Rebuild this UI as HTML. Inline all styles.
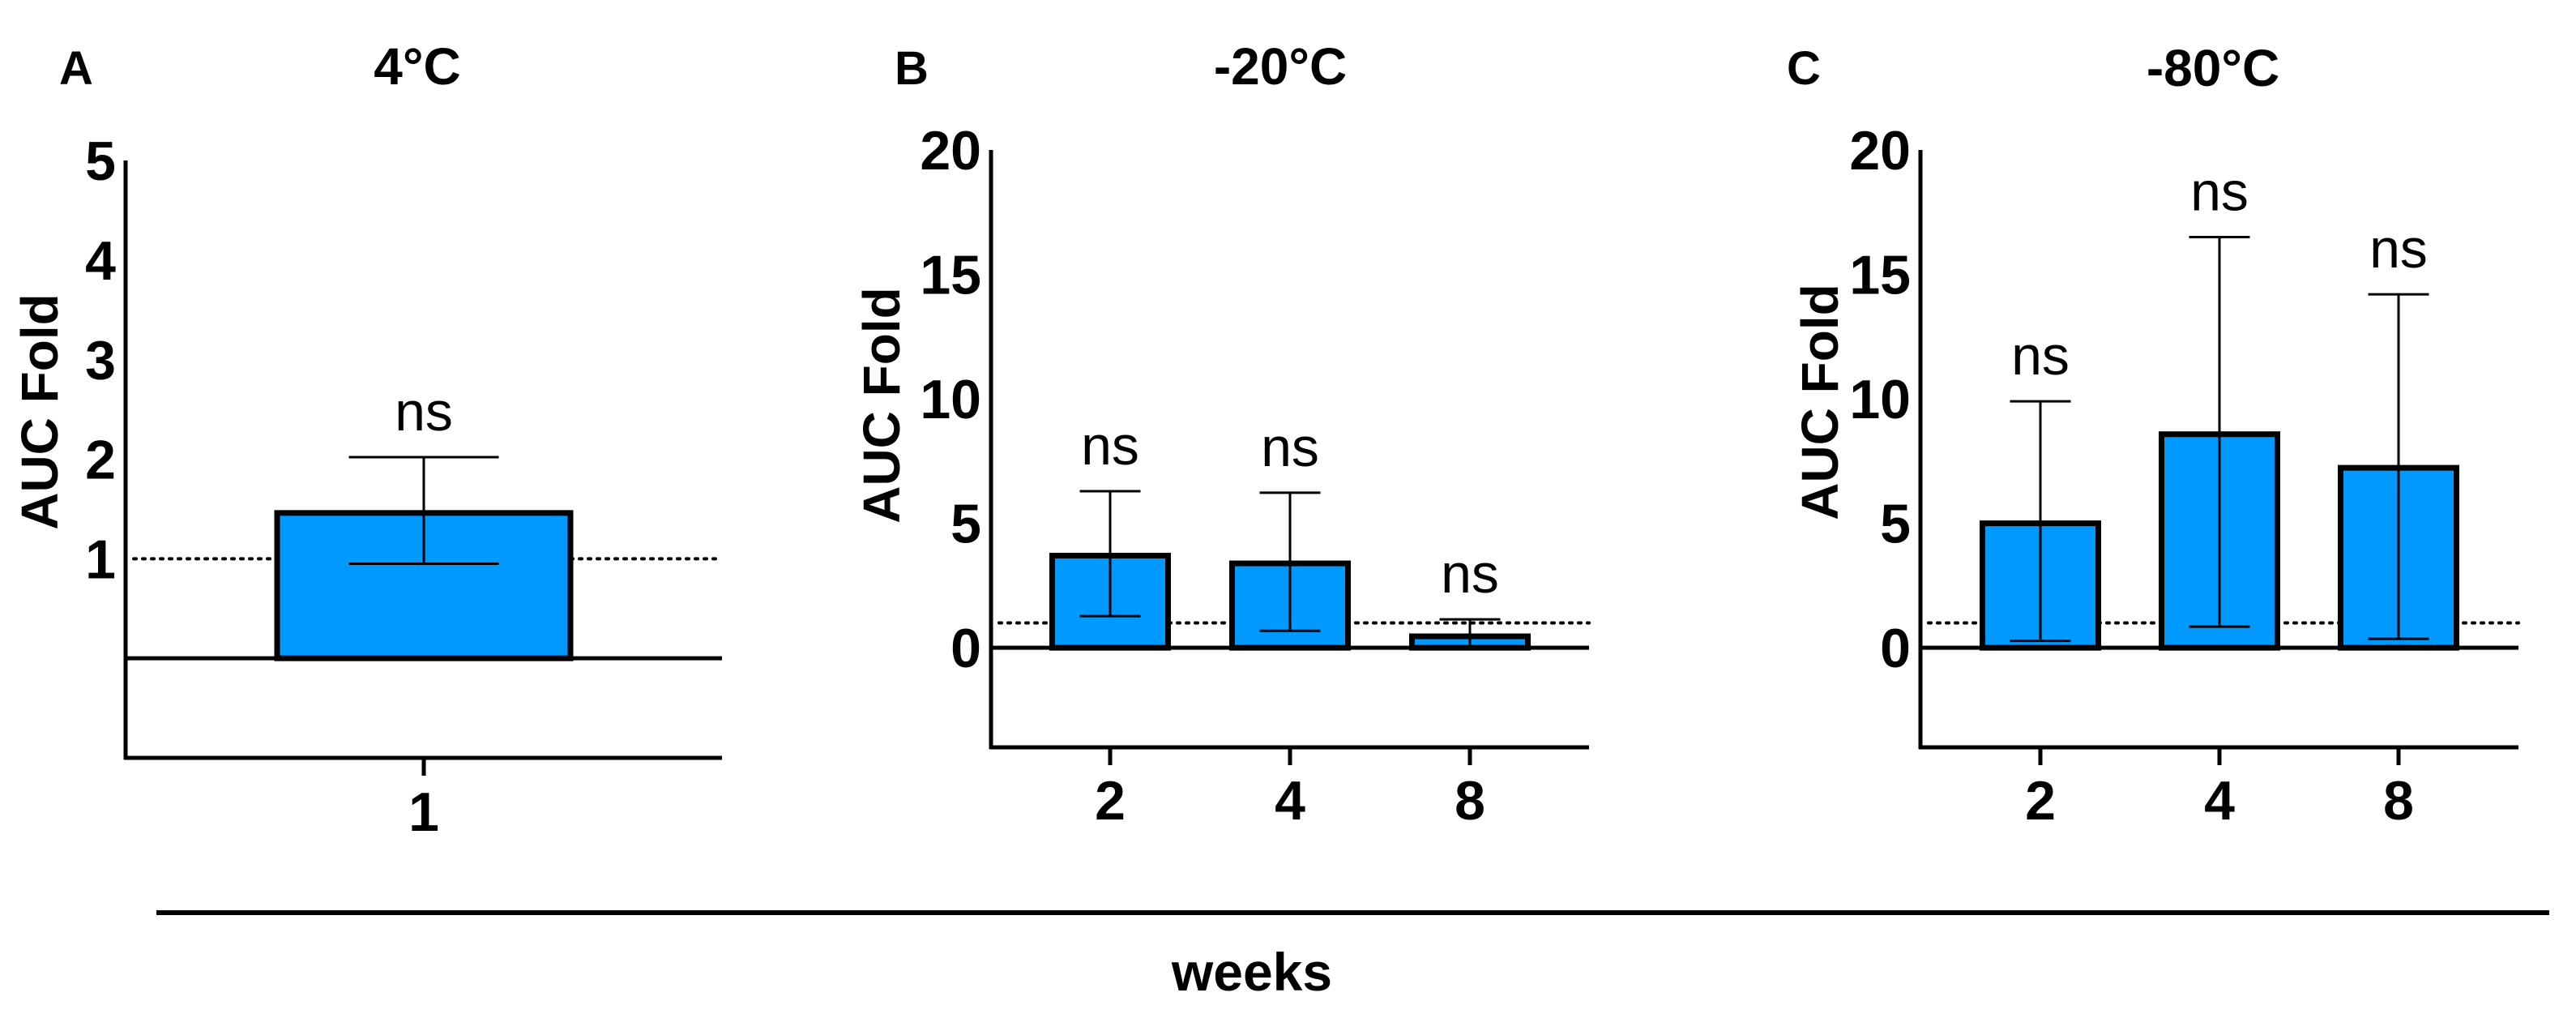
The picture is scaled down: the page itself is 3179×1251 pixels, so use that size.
<!DOCTYPE html>
<html><head><meta charset="utf-8"><style>
html,body{margin:0;padding:0;background:#fff;}
svg{display:block;}
text{font-family:"Liberation Sans",Arial,sans-serif;}
</style></head><body>
<svg id="fig" width="3179" height="1251" viewBox="0 0 3179 1251" xmlns="http://www.w3.org/2000/svg">
<rect width="3179" height="1251" fill="#fff"/>
<text x="94" y="104" font-size="58" font-weight="bold" text-anchor="middle">A</text>
<text x="1125" y="104" font-size="58" font-weight="bold" text-anchor="middle">B</text>
<text x="2226" y="104" font-size="58" font-weight="bold" text-anchor="middle">C</text>
<text x="515" y="104" font-size="64" font-weight="bold" text-anchor="middle">4°C</text>
<text x="1580" y="104" font-size="64" font-weight="bold" text-anchor="middle">-20°C</text>
<text x="2731" y="106" font-size="64" font-weight="bold" text-anchor="middle">-80°C</text>
<line x1="193" y1="1126" x2="3146" y2="1126" stroke="#000" stroke-width="6"/>
<text x="1545" y="1222" font-size="66" font-weight="bold" text-anchor="middle">weeks</text>
</svg>
<script>
// Panel A (4°C)
const catsA = ["1"];
const meanA = [1.46];
const errLoA = [0.95];
const errHiA = [2.02];
const ticksA = [1, 2, 3, 4, 5];
// Panel B (-20°C)
const catsB = ["2", "4", "8"];
const meanB = [3.7, 3.39, 0.46];
const errLoB = [1.27, 0.68, 0.0];
const errHiB = [6.29, 6.23, 1.14];
const ticksB = [0, 5, 10, 15, 20];
// Panel C (-80°C)
const catsC = ["2", "4", "8"];
const meanC = [5.0, 8.58, 7.23];
const errLoC = [0.28, 0.85, 0.36];
const errHiC = [9.9, 16.5, 14.2];
const ticksC = [0, 5, 10, 15, 20];
const sigLabels = ["ns", "ns", "ns"];

const NS = "http://www.w3.org/2000/svg";
const svg = document.getElementById('fig');
function mk(tag, attrs, parent) {
  const e = document.createElementNS(NS, tag);
  for (const k in attrs) e.setAttribute(k, attrs[k]);
  (parent || svg).appendChild(e);
  return e;
}

function panel(id, cats, mean, lo, hi, ticks, L) {
  const g = mk('g', {});
  
  
  const y = v => L.y0 - (v - L.vmin) / (L.vmax - L.vmin) * (L.y0 - L.y1);
  const n = cats.length;
  const x = i => n === 1 ? (L.xl + L.xr) / 2 : L.xl + L.pad + i * (L.xr - L.xl - 2 * L.pad) / (n - 1);
  const dl = mk('line', {x1: L.xl + 10, x2: L.xr, y1: y(1), y2: y(1), stroke: '#000', 'stroke-width': 4, 'stroke-dasharray': '3 8', 'stroke-linecap': 'round'}, g);
  
  
  for (let i = 0; i < n; i++) {
    const r = mk('rect', {x: x(i) - L.barW / 2, y: y(mean[i]), width: L.barW, height: y(0) - y(mean[i]), fill: '#0099ff', stroke: '#000', 'stroke-width': 7}, g);
    
    
  }
  const zl = mk('line', {x1: L.xl, x2: L.xr, y1: y(0), y2: y(0), stroke: '#000', 'stroke-width': 5}, g);
  
  
  for (let i = 0; i < n; i++) {
    const eg = mk('g', {stroke: '#000', 'stroke-width': 3}, g);
    
    
    mk('line', {x1: x(i), x2: x(i), y1: y(hi[i]), y2: y(lo[i])}, eg);
    mk('line', {x1: x(i) - L.capW / 2, x2: x(i) + L.capW / 2, y1: y(hi[i]), y2: y(hi[i])}, eg);
    mk('line', {x1: x(i) - L.capW / 2, x2: x(i) + L.capW / 2, y1: y(lo[i]), y2: y(lo[i])}, eg);
    const t = mk('text', {x: x(i), y: y(hi[i]) - 33, 'font-size': 68, 'text-anchor': 'middle'}, g);
    t.textContent = sigLabels[i];
    
    
  }
  const ya = mk('line', {x1: L.xl, x2: L.xl, y1: L.y1, y2: L.y0 + 2, stroke: '#000', 'stroke-width': 5}, g);
  
  
  const xa = mk('line', {x1: L.xl - 2, x2: L.xr, y1: L.y0, y2: L.y0, stroke: '#000', 'stroke-width': 5}, g);
  
  
  for (const tv of ticks) {
    const t = mk('text', {x: L.xl - 12, y: y(tv) + 24, 'font-size': 68, 'font-weight': 'bold', 'text-anchor': 'end'}, g);
    t.textContent = tv;
    
    
  }
  for (let i = 0; i < n; i++) {
    const tk = mk('line', {x1: x(i), x2: x(i), y1: L.y0, y2: L.y0 + 22, stroke: '#000', 'stroke-width': 5}, g);
    
    
    const t = mk('text', {x: x(i), y: L.xlabY + 24, 'font-size': 68, 'font-weight': 'bold', 'text-anchor': 'middle'}, g);
    t.textContent = cats[i];
    
    
  }
  const yl = mk('text', {x: 0, y: 0, 'font-size': 64, 'font-weight': 'bold', 'text-anchor': 'middle', transform: 'translate(' + (L.ylabX + 23) + ',' + L.ylabY + ') rotate(-90)'}, g);
  yl.textContent = 'AUC Fold';
  
  
}

panel('a', catsA, meanA, errLoA, errHiA, ticksA,
  {xl: 155, xr: 891, pad: 0, y1: 198, y0: 935, vmin: -1, vmax: 5, barW: 362, capW: 185, xlabY: 1001, ylabX: 48, ylabY: 508});
panel('b', catsB, meanB, errLoB, errHiB, ticksB,
  {xl: 1223, xr: 1961, pad: 147, y1: 185, y0: 922, vmin: -4, vmax: 20, barW: 143, capW: 75, xlabY: 987, ylabX: 1087, ylabY: 500});
panel('c', catsC, meanC, errLoC, errHiC, ticksC,
  {xl: 2370, xr: 3108, pad: 148, y1: 185, y0: 922, vmin: -4, vmax: 20, barW: 143, capW: 75, xlabY: 987, ylabX: 2245, ylabY: 496});
</script>
</body></html>
